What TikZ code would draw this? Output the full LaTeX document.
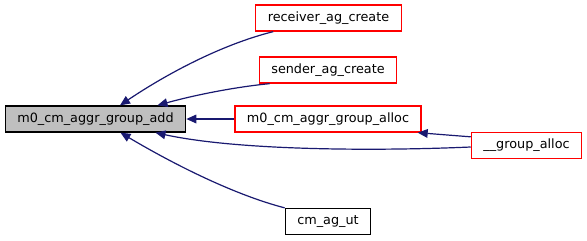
\documentclass[tikz,border=0pt]{standalone}
\usepackage{fontspec}
\setmainfont{DejaVu Sans}
\usetikzlibrary{arrows.meta,calc}
\definecolor{edgeblue}{HTML}{191970}
\definecolor{boxgray}{HTML}{BFBFBF}
\begin{document}
\begin{tikzpicture}
			[x=0.75pt, y=-0.75pt,
			every node/.style={rectangle, draw, line width=1pt,
				font=\fontsize{9.6}{11}\selectfont,
				inner xsep=9pt, inner ysep=0pt, minimum height=19.5pt},
			caller/.style={draw=red},
			current/.style={fill=boxgray},
			call/.style={edgeblue, line width=0.9pt,
				{Triangle[length=7.5pt,width=6.5pt]}-}]
			\useasboundingbox (0,0) rectangle (587,240);
			% function and its callers
			\node[current] (add) at (95.5,119) {m0\_cm\_aggr\_group\_add};
			\node[caller] (recv) at (328.5,18) {receiver\_ag\_create};
			\node[caller] (send) at (328,70) {sender\_ag\_create};
			\node[caller] (alloc) at (328,119) {m0\_cm\_aggr\_group\_alloc};
			\node[caller] (galloc) at (526.5,145.5) {\_\_group\_alloc};
			\node (agut) at (328,221.5) {cm\_ag\_ut};
			% call edges
			\draw[call] ($(add.north)+(24.5,0)$) .. controls (165,75) and (220,45) .. ($(recv.south west)+(18,0)$);
			\draw[call] ($(add.north)+(62,0)$) .. controls (195,95) and (235,87) .. ($(send.south west)+(11,0)$);
			\draw[call] (add.east) -- (alloc.west);
			\draw[call] ($(add.south)+(60,0)$) .. controls (240,151) and (380,151) .. ($(galloc.west)+(0,1.5)$);
			\draw[call] ($(add.south)+(25,0)$) .. controls (175,165) and (235,195) .. (agut.north west);
			\draw[call] ($(alloc.south east)+(-4,0)$) -- ($(galloc.north west)+(0,5)$);
\end{tikzpicture}
\end{document}
